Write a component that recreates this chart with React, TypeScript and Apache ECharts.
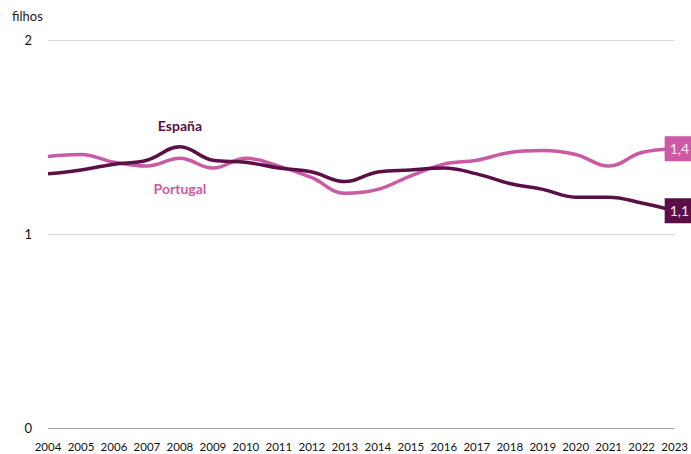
import React, { useEffect, useRef } from "react";
import * as echarts from "echarts";

const years = ["2004","2005","2006","2007","2008","2009","2010","2011","2012","2013","2014","2015","2016","2017","2018","2019","2020","2021","2022","2023"];
const espana = [1.31,1.33,1.36,1.38,1.45,1.38,1.37,1.34,1.32,1.27,1.32,1.33,1.34,1.31,1.26,1.23,1.19,1.19,1.16,1.12];
const portugal = [1.40,1.41,1.37,1.35,1.39,1.34,1.39,1.35,1.29,1.21,1.23,1.30,1.36,1.38,1.42,1.43,1.41,1.35,1.42,1.44];
const yTicks = [0, 1, 2];

const DARK = "#5b0f47";
const PINK = "#c95aa3";
const FONT = "Lato";

const fmt = (p: any) => Number(p.value).toFixed(1).replace(".", ",");

export default function App() {
  const ref = useRef<HTMLDivElement>(null);
  useEffect(() => {
    const chart = echarts.init(ref.current!, null, { renderer: "svg" });
    chart.setOption({
      animation: false,
      textStyle: { fontFamily: FONT },
      grid: { left: 48, right: 16, top: 40, bottom: 26 },
      graphic: [
        { type: "text", left: 12, top: 9, style: { text: "filhos", fontFamily: FONT, fontSize: 13, fill: "#222" } },
      ],
      xAxis: {
        type: "category",
        data: years,
        boundaryGap: false,
        axisLine: { show: false },
        axisTick: { show: false },
        axisLabel: { color: "#111", fontSize: 11.5, margin: 12, fontFamily: FONT, interval: 0 },
      },
      yAxis: {
        type: "value",
        min: yTicks[0],
        max: yTicks[yTicks.length - 1],
        interval: 1,
        axisLine: { show: false },
        axisTick: { show: false },
        axisLabel: { color: "#111", fontSize: 13, margin: 16, fontFamily: FONT },
        splitLine: {
          lineStyle: { color: ["#a6a6a6", "#d9d9d9", "#d9d9d9"], width: 1 },
        },
      },
      series: [
        {
          name: "Portugal",
          type: "line",
          data: portugal,
          smooth: 0.4,
          symbol: "none",
          lineStyle: { color: PINK, width: 3.5 },
          itemStyle: { color: PINK },
          endLabel: {
            show: true,
            formatter: fmt,
            backgroundColor: PINK,
            color: "#fbeef6",
            fontSize: 14,
            fontFamily: FONT,
            padding: [6, 8, 5, 5],
            distance: -10,
          },
          markPoint: {
            symbol: "circle",
            symbolSize: 0,
            data: [{ coord: ["2008", 1.237], value: "Portugal" }],
            label: { show: true, position: "inside", formatter: "Portugal", color: PINK, fontWeight: "bold", fontSize: 14, fontFamily: FONT },
          },
          z: 2,
        },
        {
          name: "España",
          type: "line",
          data: espana,
          smooth: 0.4,
          symbol: "none",
          lineStyle: { color: DARK, width: 3.5 },
          itemStyle: { color: DARK },
          endLabel: {
            show: true,
            formatter: fmt,
            backgroundColor: DARK,
            color: "#f3e6ef",
            fontSize: 14,
            fontFamily: FONT,
            padding: [6, 8, 5, 5],
            distance: -10,
          },
          markPoint: {
            symbol: "circle",
            symbolSize: 0,
            data: [{ coord: ["2008", 1.557], value: "España" }],
            label: { show: true, position: "inside", formatter: "España", color: DARK, fontWeight: "bold", fontSize: 14, fontFamily: FONT },
          },
          z: 3,
        },
      ],
    });
    return () => chart.dispose();
  }, []);
  return <div ref={ref} style={{ position: "fixed", left: 0, top: 0, width: 691, height: 454, background: "#fff" }} />;
}
